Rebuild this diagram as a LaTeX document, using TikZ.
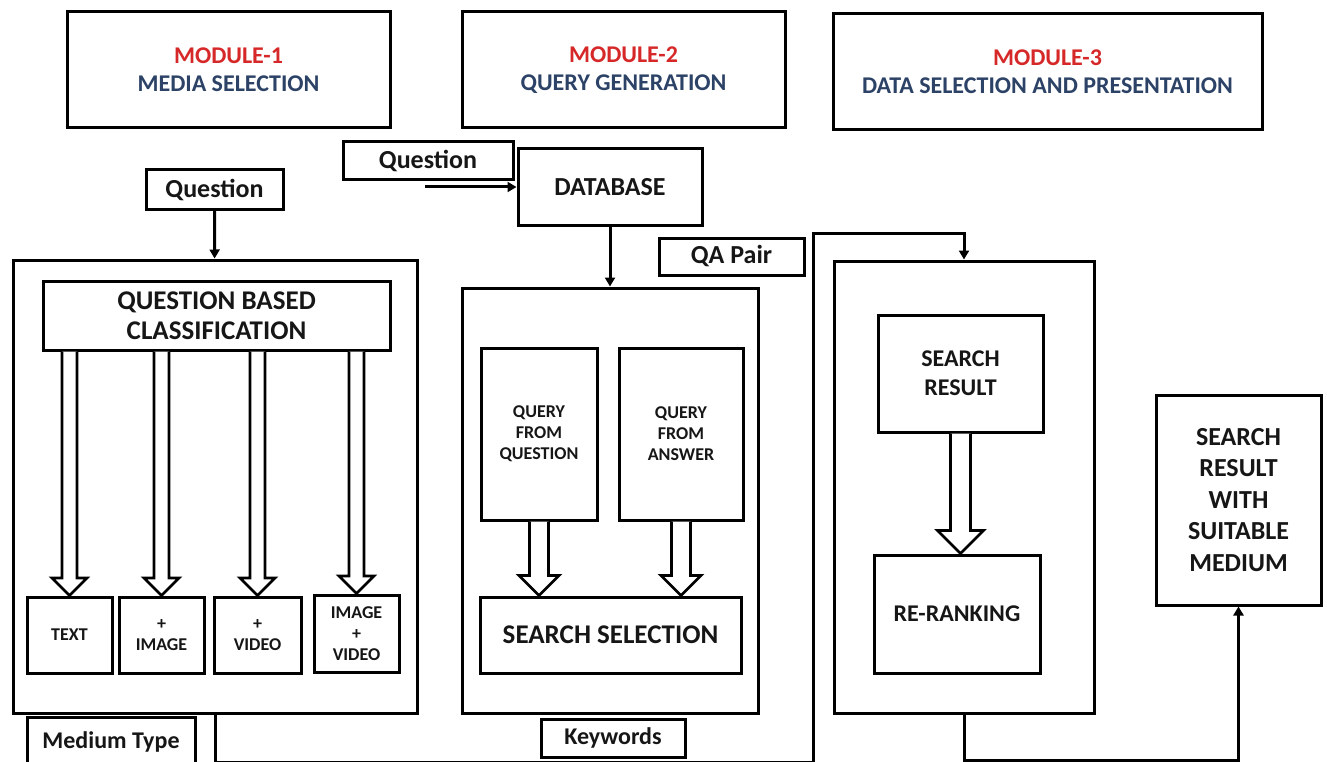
\documentclass[tikz,border=0pt]{standalone}
\usepackage{fontspec}
\setmainfont{Carlito}
\usetikzlibrary{arrows.meta,calc}
\definecolor{modred}{RGB}{214,40,40}
\definecolor{modblue}{RGB}{44,66,102}
\definecolor{ink}{RGB}{22,22,22}
% hollow block arrow: from, to, half shaft, half head
\newcommand{\blockarrow}[4]{%
  \draw[line width=2.8pt, fill=white] let \p1=(#1), \p2=(#2) in
    (\x1-#3,\y1) -- (\x1-#3,\y2+#4) -- (\x1-#4,\y2+#4) -- (\x1,\y2)
    -- (\x1+#4,\y2+#4) -- (\x1+#3,\y2+#4) -- (\x1+#3,\y1);}
\begin{document}
\begin{tikzpicture}[x=1pt, y=-1pt,
  box/.style={draw=black, line width=3pt, inner sep=0pt, align=center, text=ink},
  head/.style={box, minimum height=116pt, font=\fontsize{24}{28}\selectfont\bfseries},
  big/.style={box, font=\fontsize{26}{31}\selectfont\bfseries},
  mid/.style={box, font=\fontsize{24}{29}\selectfont\bfseries},
  small/.style={box, font=\fontsize{18}{21}\selectfont\bfseries},
  arr/.style={line width=3pt, -{Triangle[length=9pt,width=10pt]}}]
\useasboundingbox[fill=white] (0,0) rectangle (1327,762);
% Module headers
\node[head, minimum width=323pt] (mod1) at (228.5,70)
  {\textcolor{modred}{MODULE-1}\\\textcolor{modblue}{MEDIA SELECTION}};
\node[head, minimum width=323pt] (mod2) at (623.5,70)
  {\textcolor{modred}{MODULE-2}\\\textcolor{modblue}{QUERY GENERATION}};
\node[head, minimum width=429pt] (mod3) at (1047.5,72)
  {\textcolor{modred}{MODULE-3}\\\textcolor{modblue}{DATA SELECTION AND PRESENTATION}};
% Module 1
\node[big, minimum width=137pt, minimum height=39pt] (q1) at (214.5,189.5) {Question};
\node[box, minimum width=404pt, minimum height=453pt] (box1) at (215,486.5) {};
\node[big, font=\fontsize{27}{30}\selectfont\bfseries, minimum width=347pt, minimum height=69pt]
  (qbc) at (216.5,315.5) {QUESTION BASED\\CLASSIFICATION};
\node[small, minimum width=85pt, minimum height=76pt] (txt) at (69.5,635) {TEXT};
\node[small, minimum width=85pt, minimum height=76pt] (img) at (161.5,635) {+\\IMAGE};
\node[small, minimum width=87pt, minimum height=76pt] (vid) at (257.5,635) {+\\VIDEO};
\node[small, minimum width=85pt, minimum height=77pt] (imv) at (356.5,633.5) {IMAGE\\+\\VIDEO};
\node[mid, minimum width=168pt, minimum height=50pt] (mt) at (111,742) {Medium Type};
% Module 2
\node[big, minimum width=170pt, minimum height=38pt] (q2) at (428,161) {Question};
\node[big, minimum width=184pt, minimum height=76pt] (db) at (610,187) {DATABASE};
\node[big, minimum width=145pt, minimum height=37pt] (qa) at (731.5,256.5) {QA Pair};
\node[box, minimum width=296pt, minimum height=425pt] (box2) at (610,500.5) {};
\node[small, minimum width=116pt, minimum height=172pt] (qfq) at (539,434) {QUERY\\FROM\\QUESTION};
\node[small, minimum width=124pt, minimum height=172pt] (qfa) at (681,434) {QUERY\\FROM\\ANSWER};
\node[big, font=\fontsize{27}{30}\selectfont\bfseries, minimum width=261pt, minimum height=76pt]
  (ss) at (610.5,635) {SEARCH SELECTION};
\node[mid, minimum width=144pt, minimum height=38pt] (kw) at (613,738) {Keywords};
% Module 3
\node[box, minimum width=260pt, minimum height=452pt] (box3) at (964,487) {};
\node[mid, minimum width=165pt, minimum height=117pt] (sr) at (960.5,373.5) {SEARCH\\RESULT};
\node[mid, minimum width=166pt, minimum height=118pt] (rr) at (957,614) {RE-RANKING};
\node[big, font=\fontsize{26}{31.5}\selectfont\bfseries, minimum width=165pt, minimum height=210pt]
  (fin) at (1238.5,500) {SEARCH\\RESULT\\WITH\\SUITABLE\\MEDIUM};
% Connectors
\coordinate (qin) at (425,187);
\coordinate (loopL) at (813,762);
\coordinate (loopT) at (813,233);
\coordinate (loopR) at (1238.5,760);
\draw[arr] (q1) -- (box1);
\draw[arr] (qin) -- (db);
\draw[arr] (db) -- (box2);
\draw[arr] (box1.south) |- (loopL) -- (loopT) -| (box3.north);
\draw[arr] (box3.south) |- (loopR) -- (fin.south);
% Block arrows
\foreach \bx in {txt,img,vid,imv}
  \blockarrow{qbc.south -| \bx.north}{\bx.north}{7.5pt}{17.5pt};
\blockarrow{qfq.south}{qfq.south |- ss.north}{9.5pt}{20pt};
\blockarrow{qfa.south}{qfa.south |- ss.north}{9.5pt}{20pt};
\blockarrow{sr.south}{sr.south |- rr.north}{10pt}{23pt};
\end{tikzpicture}
\end{document}
